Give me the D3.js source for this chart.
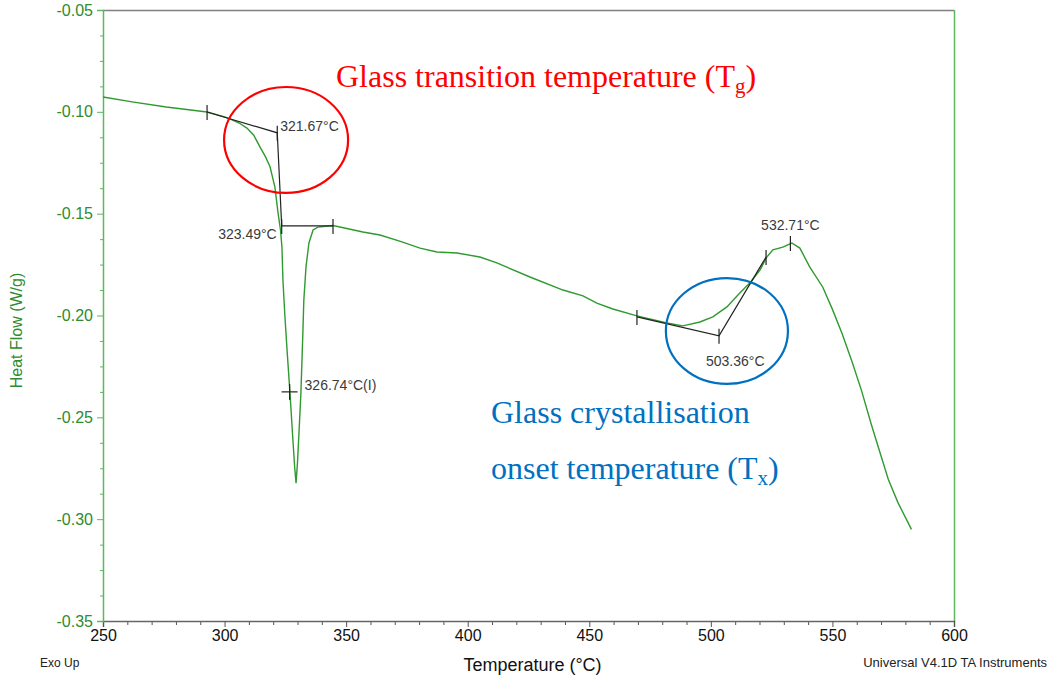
<!DOCTYPE html>
<html lang="en">
<head>
<meta charset="UTF-8">
<title>DSC Heat Flow</title>
<script src="https://d3js.org/d3.v7.min.js"></script>
<style>
  body { margin: 0; background: #fff; overflow: hidden; }
  svg text { font-family: "Liberation Sans", Arial, sans-serif; }
  .serif { font-family: "Liberation Serif", "Times New Roman", serif !important; }
</style>
</head>
<body>
<div id="chart"></div>
<script>
// measured curve (temperature in °C, heat flow in W/g)
const temps = [250, 262, 276, 292.8, 300, 302.2, 306, 309.2, 312, 314.6, 316.8, 318.7, 320.7, 322, 323, 323.6,
  324, 324.8, 325.7, 326.9, 328.1, 328.8, 329.4, 330, 330.6, 331.4, 332.2, 332.6, 333.5, 334.7, 336.4, 338.4,
  344.6, 356.9, 363.9, 372, 380.4, 387.3, 395.6, 405, 412, 425.6, 439.2, 447.4, 453.1, 459.7, 469.6, 481.9,
  488.5, 495.5, 500.8, 506.6, 511.9, 516, 520.2, 523, 525.5, 529.6, 533.3, 536.6, 540.7, 546, 550, 554, 558,
  562, 566, 570, 573, 577, 582.5];
const heatFlow = [-0.0927, -0.0951, -0.0976, -0.1001, -0.1025, -0.1035, -0.1055, -0.108, -0.1115, -0.1173, -0.122,
  -0.127, -0.137, -0.1497, -0.158, -0.1664, -0.1826, -0.2, -0.217, -0.238, -0.261, -0.274, -0.2823, -0.272, -0.2577,
  -0.238, -0.2086, -0.1924, -0.176, -0.1644, -0.158, -0.1566, -0.1558, -0.159, -0.1605, -0.1635, -0.1669, -0.1688,
  -0.1693, -0.1713, -0.1742, -0.1811, -0.1875, -0.1904, -0.1939, -0.1968, -0.2002, -0.2037, -0.2051, -0.2032,
  -0.2007, -0.1958, -0.189, -0.184, -0.1777, -0.1713, -0.1678, -0.1664, -0.1644, -0.1669, -0.1762, -0.186, -0.197,
  -0.209, -0.2225, -0.237, -0.2535, -0.269, -0.2805, -0.292, -0.305];

const xTicks = [250, 300, 350, 400, 450, 500, 550, 600];
const yTicks = [-0.05, -0.10, -0.15, -0.20, -0.25, -0.30, -0.35];

// onset constructions from the analysis software
const tgTemps = [292.8, 321.67, 323.49, 344.6];
const tgFlows = [-0.1001, -0.1103, -0.156, -0.156];
const txTemps = [469.6, 503.36, 522.7];
const txFlows = [-0.2007, -0.210, -0.1713];
const peak = [532.71, -0.1644];
const inflection = [326.74, -0.2375];

const width = 1051, height = 679;
const mLeft = 103, mRight = 954, mTop = 10, mBottom = 621;

const svg = d3.select("#chart").append("svg")
  .attr("width", width).attr("height", height);

const x = d3.scaleLinear().domain([250, 600]).range([mLeft, mRight]);
const y = d3.scaleLinear().domain([-0.35, -0.05]).range([mBottom, mTop]);

const green = "#2f9a2f";
const axisGreen = "#5cb85c";

// frame: top border grey, right border green
svg.append("line").attr("x1", mLeft).attr("x2", mRight).attr("y1", mTop + 0.5).attr("y2", mTop + 0.5)
  .attr("stroke", "#808080").attr("stroke-width", 1.5);
svg.append("line").attr("x1", mRight + 0.5).attr("x2", mRight + 0.5).attr("y1", mTop).attr("y2", mBottom)
  .attr("stroke", axisGreen).attr("stroke-width", 1.5);

// x axis
const minorX = d3.range(250, 601, 10).filter(v => v % 50 !== 0);
svg.append("g").attr("transform", `translate(0,${mBottom})`)
  .call(d3.axisBottom(x).tickValues(minorX).tickSize(4).tickFormat(""))
  .call(g => g.select(".domain").remove())
  .call(g => g.selectAll("line").attr("stroke", "#555"));
const xg = svg.append("g").attr("transform", `translate(0,${mBottom})`)
  .call(d3.axisBottom(x).tickValues(xTicks).tickSize(6).tickPadding(3).tickFormat(d3.format("d")));
xg.select(".domain").attr("stroke", "#666").attr("stroke-width", 1.5);
xg.selectAll("line").attr("stroke", "#555");
xg.selectAll("text").attr("fill", "#111").style("font-size", "16px");

// y axis
const minorY = d3.range(-0.35, -0.049, 0.0125).filter(v => Math.abs(v * 20 - Math.round(v * 20)) > 1e-6);
svg.append("g").attr("transform", `translate(${mLeft},0)`)
  .call(d3.axisLeft(y).tickValues(minorY).tickSize(3).tickFormat(""))
  .call(g => g.select(".domain").remove())
  .call(g => g.selectAll("line").attr("stroke", axisGreen));
const yg = svg.append("g").attr("transform", `translate(${mLeft},0)`)
  .call(d3.axisLeft(y).tickValues(yTicks).tickSize(6).tickPadding(4).tickFormat(d => d.toFixed(2)));
yg.select(".domain").attr("stroke", axisGreen).attr("stroke-width", 1.5);
yg.selectAll("line").attr("stroke", axisGreen);
yg.selectAll("text").attr("fill", "#2e8b2e").style("font-size", "16px");

// axis titles and footer texts
svg.append("text").attr("x", (mLeft + mRight) / 2 + 4).attr("y", 671)
  .attr("text-anchor", "middle").attr("fill", "#111").style("font-size", "18px")
  .text("Temperature (°C)");
svg.append("text").attr("transform", `translate(22,${(mTop + mBottom) / 2 + 15}) rotate(-90)`)
  .attr("text-anchor", "middle").attr("fill", "#2e8b2e").style("font-size", "16px")
  .text("Heat Flow (W/g)");
svg.append("text").attr("x", 40).attr("y", 667).attr("fill", "#222").style("font-size", "12px").text("Exo Up");
svg.append("text").attr("x", 1047).attr("y", 667).attr("text-anchor", "end").attr("fill", "#222")
  .style("font-size", "13px").text("Universal V4.1D TA Instruments");

// curve
const pts = temps.map((t, i) => [t, heatFlow[i]]);
const line = d3.line().x(d => x(d[0])).y(d => y(d[1]));
svg.append("path").datum(pts).attr("d", line)
  .attr("fill", "none").attr("stroke", green).attr("stroke-width", 1.4);

// tangent constructions
const ink = "#222";
const tg = tgTemps.map((t, i) => [t, tgFlows[i]]);
const tx = txTemps.map((t, i) => [t, txFlows[i]]);
[tg, tx].forEach(set => {
  svg.append("path").datum(set).attr("d", line)
    .attr("fill", "none").attr("stroke", ink).attr("stroke-width", 1.2);
  svg.selectAll(null).data(set).enter().append("line")
    .attr("x1", d => x(d[0])).attr("x2", d => x(d[0]))
    .attr("y1", d => y(d[1]) - 7).attr("y2", d => y(d[1]) + 8)
    .attr("stroke", ink).attr("stroke-width", 1.2);
});
// peak tick
svg.append("line").attr("x1", x(peak[0])).attr("x2", x(peak[0]))
  .attr("y1", y(peak[1]) - 7).attr("y2", y(peak[1]) + 8).attr("stroke", ink).attr("stroke-width", 1.2);
// inflection cross
svg.append("line").attr("x1", x(inflection[0]) - 8).attr("x2", x(inflection[0]) + 8)
  .attr("y1", y(inflection[1])).attr("y2", y(inflection[1])).attr("stroke", ink).attr("stroke-width", 1.2);
svg.append("line").attr("x1", x(inflection[0])).attr("x2", x(inflection[0]))
  .attr("y1", y(inflection[1]) - 8).attr("y2", y(inflection[1]) + 8).attr("stroke", ink).attr("stroke-width", 1.2);

// value labels
const labels = [
  { t: tgTemps[1], v: tgFlows[1], text: "321.67°C", dx: 3, dy: -7, anchor: "start" },
  { t: tgTemps[2], v: tgFlows[2], text: "323.49°C", dx: -5, dy: 8, anchor: "end" },
  { t: inflection[0], v: inflection[1], text: "326.74°C(I)", dx: 15, dy: -7, anchor: "start" },
  { t: txTemps[1], v: txFlows[1], text: "503.36°C", dx: -13, dy: 25, anchor: "start" },
  { t: peak[0], v: peak[1], text: "532.71°C", dx: 0, dy: -18, anchor: "middle" }
];
svg.selectAll(null).data(labels).enter().append("text")
  .attr("x", d => x(d.t) + d.dx).attr("y", d => y(d.v) + d.dy)
  .attr("dominant-baseline", "central").attr("text-anchor", d => d.anchor)
  .attr("fill", "#3a3a3a").style("font-size", "14px")
  .text(d => d.text);

// highlight ellipses
const red = "#ff0000", blue = "#0070c0";
svg.append("ellipse").attr("cx", x(325.3)).attr("cy", y(-0.1138))
  .attr("rx", x(325.3 + 25.5) - x(325.3)).attr("ry", y(-0.1138 - 0.026) - y(-0.1138))
  .attr("fill", "none").attr("stroke", red).attr("stroke-width", 2.2);
svg.append("ellipse").attr("cx", x(506.6)).attr("cy", y(-0.2076))
  .attr("rx", x(506.6 + 25.1) - x(506.6)).attr("ry", y(-0.2076 - 0.026) - y(-0.2076))
  .attr("fill", "none").attr("stroke", blue).attr("stroke-width", 2.2);

// callout captions
const tgText = svg.append("text").attr("class", "serif").attr("x", 336).attr("y", 87)
  .attr("fill", red).style("font-size", "32px");
tgText.append("tspan").text("Glass transition temperature (T");
tgText.append("tspan").attr("dy", 6).style("font-size", "21px").text("g");
tgText.append("tspan").attr("dy", -6).text(")");

svg.append("text").attr("class", "serif").attr("x", 491).attr("y", 423)
  .attr("fill", blue).style("font-size", "32px").text("Glass crystallisation");
const txText = svg.append("text").attr("class", "serif").attr("x", 491).attr("y", 479)
  .attr("fill", blue).style("font-size", "32px");
txText.append("tspan").text("onset temperature (T");
txText.append("tspan").attr("dy", 6).style("font-size", "21px").text("x");
txText.append("tspan").attr("dy", -6).text(")");
</script>
</body>
</html>
